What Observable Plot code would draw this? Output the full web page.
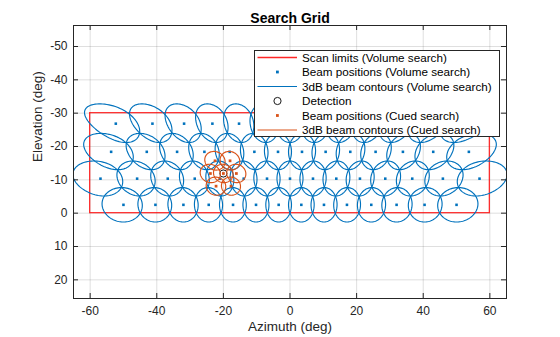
<!DOCTYPE html>
<html><head><meta charset="utf-8">
<script src="https://cdn.jsdelivr.net/npm/d3@7"></script>
<script src="https://cdn.jsdelivr.net/npm/@observablehq/plot@0.6"></script>
<style>
body{margin:0;background:#fff;}
#wrap{position:relative;width:560px;height:337px;font-family:"Liberation Sans",Arial,Helvetica,sans-serif;}
#legend{position:absolute;left:254px;top:50px;width:246px;height:87px;border:1px solid #262626;background:#fff;box-sizing:border-box;}
#legend svg{display:block;}
</style></head><body><div id="wrap"></div>
<script>
// ---- data ----
const xTicks = [-60, -40, -20, 0, 20, 40, 60];
const yTicks = [-50, -40, -30, -20, -10, 0, 10, 20];
const scanAz = [-60, 60];
const scanEl = [-30, 0];
const volRowEl = [-26.85, -18.4, -10.35, -2.5];
const volRowAz = [
  [-52.3, -41.3, -31.8, -23.3, -15.3, -7.6, 0, 7.6, 15.3, 23.3, 31.8, 41.3, 52.3],
  [-53.7, -43.0, -33.9, -25.7, -18.1, -10.7, -3.6, 3.6, 10.7, 18.1, 25.7, 33.9, 43.0, 53.7],
  [-56.9, -45.9, -36.7, -28.6, -21.0, -13.9, -6.9, 0, 6.9, 13.9, 21.0, 28.6, 36.7, 45.9, 56.9],
  [-50.0, -40.4, -32.0, -24.4, -17.1, -10.2, -3.4, 3.4, 10.2, 17.1, 24.4, 32.0, 40.4, 50.0]
];
const detectionAz = [-20.0];
const detectionEl = [-11.9];
const cuedAz = [-20.0, -22.5, -18.0, -23.9, -16.1, -22.2, -17.7];
const cuedEl = [-11.9, -15.7, -15.7, -11.9, -11.9, -8.1, -8.1];
// half 3dB widths in sine (u,v) space
const volHalfU = 0.067, volHalfV = 0.09;
const cuedHalf = 0.047;
const legendLabels = [
  "Scan limits (Volume search)",
  "Beam positions (Volume search)",
  "3dB beam contours (Volume search)",
  "Detection",
  "Beam positions (Cued search)",
  "3dB beam contours (Cued search)"
];

// ---- derived tables ----
const volPoints = volRowEl.flatMap((el, i) => volRowAz[i].map(az => ({az, el})));
const cuedPoints = cuedAz.map((az, i) => ({az, el: cuedEl[i]}));
const detPoints = detectionAz.map((az, i) => ({az, el: detectionEl[i]}));
const scanRect = [{x1: scanAz[0], x2: scanAz[1], y1: scanEl[0], y2: scanEl[1]}];

// 3dB contour of a beam: ellipse in sine space mapped back to az/el
function contour(p, a, b, id) {
  const r = Math.PI / 180, n = 90, out = [];
  const u0 = Math.cos(p.el * r) * Math.sin(p.az * r), v0 = Math.sin(p.el * r);
  for (let i = 0; i <= n; i++) {
    const t = 2 * Math.PI * i / n;
    const u = u0 + a * Math.cos(t), v = v0 + b * Math.sin(t);
    const e = Math.asin(v);
    const s = Math.max(-1, Math.min(1, u / Math.cos(e)));
    out.push({id, az: Math.asin(s) / r, el: e / r});
  }
  return out;
}
const volContours = volPoints.flatMap((p, i) => contour(p, volHalfU, volHalfV, i));
const cuedContours = cuedPoints.flatMap((p, i) => contour(p, cuedHalf, cuedHalf, i));

const W = 560, H = 337, mL = 73, mR = 54, mT = 25, mB = 39;
const innerW = W - mL - mR, innerH = H - mT - mB;
const blue = "#0072BD", orange = "#D95319", axisCol = "#262626";
const font = '"Liberation Sans", Arial, Helvetica, sans-serif';

const chart = Plot.plot({
  width: W, height: H,
  marginLeft: mL, marginRight: mR, marginTop: mT, marginBottom: mB,
  x: {domain: [-65, 65], axis: null},
  y: {domain: [-56.3, 25.6], reverse: true, axis: null},
  style: {fontFamily: font, fontSize: "12px", color: axisCol, background: "#fff", overflow: "visible"},
  marks: [
    Plot.gridX(xTicks, {stroke: axisCol, strokeOpacity: 0.15}),
    Plot.gridY(yTicks, {stroke: axisCol, strokeOpacity: 0.15}),
    Plot.rect(scanRect, {x1: "x1", x2: "x2", y1: "y1", y2: "y2", fill: "none", stroke: "#ff0000", strokeWidth: 1.3, strokeOpacity: 0.8}),
    Plot.line(volContours, {x: "az", y: "el", z: "id", stroke: blue, strokeWidth: 1.15, clip: true}),
    Plot.dot(volPoints, {x: "az", y: "el", symbol: "square", r: 1.45, fill: blue, stroke: null}),
    Plot.dot(detPoints, {x: "az", y: "el", r: 3.6, fill: "none", stroke: "#1a1a1a", strokeWidth: 1}),
    Plot.dot(cuedPoints, {x: "az", y: "el", symbol: "square", r: 1.55, fill: orange, stroke: null}),
    Plot.line(cuedContours, {x: "az", y: "el", z: "id", stroke: orange, strokeWidth: 1.15, clip: true}),
    Plot.frame({stroke: axisCol, strokeWidth: 1}),
    Plot.tickX(xTicks, {x: d => d, stroke: axisCol, insetTop: innerH - 5}),
    Plot.tickX(xTicks, {x: d => d, stroke: axisCol, insetBottom: innerH - 5}),
    Plot.tickY(yTicks, {y: d => d, stroke: axisCol, insetRight: innerW - 5}),
    Plot.tickY(yTicks, {y: d => d, stroke: axisCol, insetLeft: innerW - 5}),
    Plot.axisX({ticks: xTicks, tickSize: 0, tickPadding: 8, tickFormat: d => String(d), label: null, fontSize: 12}),
    Plot.axisY({ticks: yTicks, tickSize: 0, tickPadding: 6, tickFormat: d => String(d), label: null, fontSize: 12}),
    Plot.text(["Azimuth (deg)"], {text: d => d, frameAnchor: "bottom", dy: 32, fontSize: 13.5, fill: axisCol}),
    Plot.text(["Elevation (deg)"], {text: d => d, frameAnchor: "left", dx: -36, rotate: -90, fontSize: 13.5, fill: axisCol}),
    Plot.text(["Search Grid"], {text: d => d, frameAnchor: "top", dy: -12, fontSize: 14, fontWeight: "bold", fill: "#000"})
  ]
});
const wrap = document.getElementById("wrap");
wrap.appendChild(chart);

// ---- legend ----
const leg = document.createElement("div");
leg.id = "legend";
wrap.appendChild(leg);
const lsvg = d3.select(leg).append("svg").attr("width", 244).attr("height", 85);
legendLabels.forEach((lab, i) => {
  const y = 6.5 + i * 14.5;
  const g = lsvg.append("g");
  if (i === 0 || i === 2 || i === 5) {
    const c = i === 0 ? "#ff0000" : i === 2 ? blue : orange;
    g.append("line").attr("x1", 2.5).attr("x2", 42).attr("y1", y).attr("y2", y)
      .attr("stroke", c).attr("stroke-width", i === 0 ? 1.3 : 1.15).attr("stroke-opacity", i === 0 ? 0.85 : 1);
  } else if (i === 3) {
    g.append("circle").attr("cx", 22.5).attr("cy", y).attr("r", 3.6).attr("fill", "none").attr("stroke", "#1a1a1a");
  } else {
    const c = i === 1 ? blue : orange;
    g.append("rect").attr("x", 21).attr("y", y - 1.4).attr("width", 2.8).attr("height", 2.8).attr("fill", c);
  }
  g.append("text").attr("x", 47).attr("y", y).attr("dy", "0.35em")
    .attr("font-family", font).attr("font-size", 11.7).attr("fill", "#000").text(lab);
});
</script>
</body></html>
